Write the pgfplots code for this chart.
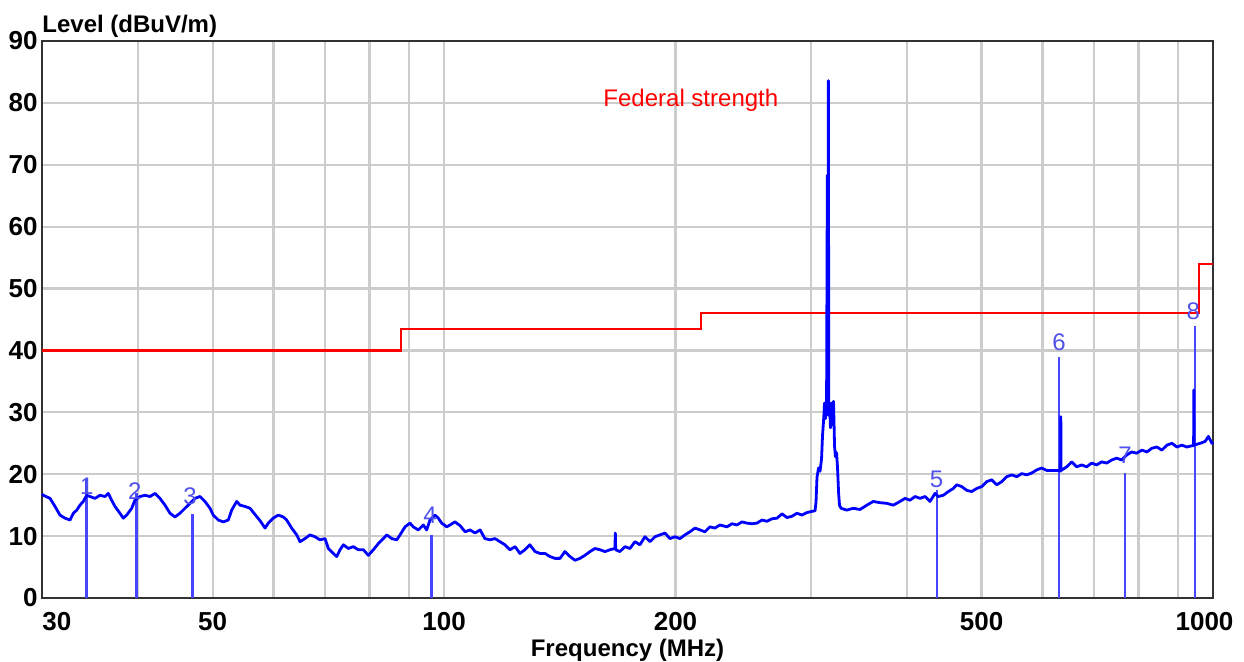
\documentclass[border=0pt]{standalone}
\usepackage{fontspec}
\setmainfont{Liberation Sans}
\usepackage{pgfplots}
\pgfplotsset{compat=1.18}

\definecolor{trace}{RGB}{0,0,255}
\definecolor{mk}{RGB}{70,70,255}
\definecolor{mklabel}{RGB}{80,80,235}
\definecolor{gridc}{RGB}{204,204,204}
\definecolor{framec}{RGB}{50,50,50}

\newcommand{\tickfont}{\fontsize{13}{15}\selectfont\bfseries}
\newcommand{\mkfont}{\fontsize{12}{14}\selectfont}

\begin{document}
\begin{tikzpicture}
\begin{semilogxaxis}[
    name=ax,
    scale only axis,
    width=585.5pt, height=278.5pt,
    xmin=30, xmax=1000, ymin=0, ymax=90,
    xtick={30,40,50,60,70,80,90,100,200,300,400,500,600,700,800,900,1000},
    xticklabels={,,50,,,,,100,200,,,500,,,,,},
    minor xtick={},
    ytick={0,10,...,90},
    grid=major,
    grid style={gridc, line width=1.1pt},
    major tick length=0pt,
    axis line style={framec, line width=1.3pt},
    tick label style={font=\tickfont, text=black},
    /pgf/number format/assume math mode=true,
    xticklabel style={inner sep=0pt, yshift=-7pt},
    yticklabel style={inner sep=0pt, xshift=-2pt},
    clip=false,
]

% marker sticks
\addplot[ycomb, mk, line width=1.3pt, mark=none] coordinates {
  (34.3,19.3) (39.83,16.9) (47.11,13.6) (96.36,10.2)
  (437.6,17.4) (630.6,38.9) (768.3,20.2) (947.9,44.0)
};

% limit line
\addplot[red, line width=1.1pt, const plot, mark=none] coordinates {
  (30,40) (88,43.5) (216,46) (960,54) (1000,54)
};

% measured trace
\addplot[trace, line width=1.4pt, line join=round, mark=none] coordinates {
  (30.0,16.8) (30.12,16.6) (30.73,16.1) (31.19,14.8) (31.66,13.4) (32.14,12.9)
  (32.63,12.6) (32.95,13.7) (33.29,14.2) (33.61,15.0) (33.95,15.6) (34.30,16.6)
  (34.64,16.4) (35.16,16.1) (35.69,16.6) (36.23,16.4) (36.59,16.9) (36.96,15.8)
  (37.33,14.8) (37.89,13.7) (38.27,12.9) (38.66,13.4) (39.25,14.5) (39.63,15.8)
  (40.23,16.4) (40.84,16.6) (41.45,16.4) (42.08,16.9) (42.71,16.1) (43.36,15.0)
  (44.01,13.7) (44.67,13.1) (45.35,13.7) (46.03,14.5) (46.73,15.3) (47.43,16.1)
  (48.15,16.4) (48.87,15.6) (49.61,14.5) (50.10,13.4) (50.86,12.6) (51.63,12.3)
  (52.41,12.6) (52.94,14.2) (53.74,15.6) (54.28,15.0) (55.09,14.8) (55.93,14.5)
  (56.77,13.5) (57.63,12.5) (58.50,11.3) (59.08,12.1) (59.96,12.9) (60.87,13.4)
  (61.79,13.1) (62.42,12.6) (63.36,11.3) (64.32,10.2) (64.96,9.1) (65.94,9.6)
  (66.93,10.2) (67.94,9.9) (68.96,9.4) (70.02,9.6) (70.72,8.0) (71.78,7.2)
  (72.52,6.7) (73.24,7.8) (73.97,8.6) (75.08,8.0) (76.21,8.3) (77.36,7.8)
  (78.53,7.8) (79.72,6.9) (80.92,7.8) (82.14,8.8) (83.38,9.6) (84.23,10.2)
  (85.50,9.6) (86.79,9.4) (87.65,10.2) (88.97,11.5) (90.30,12.1) (91.19,11.5)
  (92.57,11.0) (93.97,11.8) (94.93,11.0) (95.87,12.6) (97.32,13.4) (98.28,12.9)
  (99.29,12.1) (100.78,11.5) (101.8,11.8) (103.3,12.3) (104.9,11.7) (106.5,10.7)
  (108.1,11.0) (109.7,10.5) (111.4,11.0) (113.0,9.6) (114.7,9.4) (116.5,9.6)
  (118.2,9.1) (120.0,8.6) (121.8,7.8) (123.7,8.3) (125.5,7.2) (127.4,7.8)
  (129.3,8.6) (131.3,7.5) (133.3,7.2) (135.3,7.2) (137.3,6.7) (139.4,6.4)
  (141.5,6.4) (143.6,7.5) (145.8,6.7) (148.0,6.1) (150.2,6.4) (152.5,6.9)
  (154.8,7.5) (157.1,8.0) (159.5,7.8) (161.9,7.5) (164.4,7.8) (166.8,8.0)
  (167.0,10.5) (167.2,7.8) (169.3,7.5) (171.9,8.3) (174.5,8.0) (177.1,9.1)
  (179.8,8.6) (182.5,9.9) (185.3,9.1) (188.1,9.9) (190.9,10.2) (193.8,10.5)
  (196.7,9.6) (199.7,9.9) (202.7,9.6) (205.7,10.2) (208.8,10.7) (212.0,11.3)
  (215.2,11.0) (218.4,10.7) (221.7,11.5) (225.0,11.3) (228.4,11.8) (233.3,11.5)
  (236.8,12.0) (240.4,11.8) (244.0,12.3) (247.7,12.1) (251.4,12.0) (255.2,12.1)
  (259.1,12.6) (263.0,12.4) (266.9,12.8) (271.0,12.9) (275.1,13.6) (279.2,13.0)
  (283.4,13.2) (287.7,13.7) (292.0,13.4) (296.4,13.8) (301.0,14.0) (303.7,14.1)
  (304.6,15.5) (305.5,19.5) (306.9,21.0) (308.3,20.5) (309.7,22.5) (310.6,26.3)
  (311.5,28.5) (312.5,31.5) (313.4,29.0) (314.4,31.8) (315.1,68.3) (315.6,30.0)
  (316.1,83.6) (316.5,29.5) (317.2,31.5) (318.1,27.5) (319.1,31.5) (320.1,28.0)
  (321.0,31.8) (322.0,24.5) (322.9,22.8) (323.9,23.5) (324.9,21.0) (325.9,17.0)
  (326.8,15.0) (328.3,14.5) (334.0,14.2) (340.6,14.5) (347.5,14.3) (354.6,15.0)
  (361.6,15.6) (369.0,15.4) (376.5,15.3) (384.0,15.0) (391.7,15.6) (397.7,16.1)
  (403.6,15.8) (409.7,16.4) (415.9,16.1) (422.2,16.4) (428.5,15.6) (435.0,16.9)
  (439.3,16.4) (445.9,16.6) (452.7,17.2) (459.5,17.7) (464.2,18.3) (471.2,18.0)
  (478.3,17.4) (485.5,17.2) (492.8,17.7) (500.3,18.0) (507.8,18.8) (515.5,19.1)
  (523.3,18.3) (531.2,18.8) (539.2,19.6) (547.3,19.9) (555.6,19.6) (564.0,20.1)
  (572.5,19.9) (581.1,20.2) (589.9,20.7) (598.8,21.0) (607.8,20.6) (619.9,20.6)
  (629.3,20.6) (633.6,20.5) (634.0,29.3) (634.4,20.6) (645.3,21.2) (655.0,22.0)
  (664.9,21.2) (674.9,21.5) (685.1,21.2) (695.5,21.8) (705.9,21.5) (716.5,22.0)
  (727.4,21.8) (738.3,22.3) (749.5,22.6) (760.8,22.3) (772.3,23.1) (783.9,23.6)
  (795.7,23.4) (808.2,23.9) (820.4,23.6) (832.8,24.2) (845.3,24.4) (858.1,23.9)
  (871.0,24.7) (884.2,25.0) (897.5,24.4) (910.9,24.7) (924.6,24.4) (938.5,24.6)
  (943.6,24.6) (944.0,33.6) (944.4,24.7) (962.2,25.0) (976.7,25.3) (986.4,26.1)
  (996.5,25.0) (1000,25.2)
};

% edge tick labels
\node[anchor=north west, inner sep=0pt, font=\tickfont] at ([yshift=-7pt]axis cs:30,0) {30};
\node[anchor=north, inner sep=0pt, font=\tickfont] at ([xshift=-4.25pt, yshift=-7pt]axis cs:1000,0) {1000};

% limit label
\node[anchor=base west, inner sep=0pt, text=red, font=\fontsize{12}{14}\selectfont] at (axis cs:161,79.4) {Federal strength};

% marker numbers
\node[mklabel, inner sep=0pt, font=\mkfont] at (axis cs:34.3,18.1) {1};
\node[mklabel, inner sep=0pt, font=\mkfont] at (axis cs:39.63,17.2) {2};
\node[mklabel, inner sep=0pt, font=\mkfont] at (axis cs:46.73,16.5) {3};
\node[mklabel, inner sep=0pt, font=\mkfont] at (axis cs:95.87,13.4) {4};
\node[mklabel, inner sep=0pt, font=\mkfont] at (axis cs:437.0,19.1) {5};
\node[mklabel, inner sep=0pt, font=\mkfont] at (axis cs:630.6,41.4) {6};
\node[mklabel, inner sep=0pt, font=\mkfont] at (axis cs:768.3,23.1) {7};
\node[mklabel, inner sep=0pt, font=\mkfont] at (axis cs:943.0,46.4) {8};
\end{semilogxaxis}

\node[anchor=base west, inner sep=0pt, font=\fontsize{12}{14}\selectfont\bfseries] at ([yshift=4.5pt]ax.north west) {Level (dBuV/m)};
\node[anchor=base, inner sep=0pt, font=\fontsize{12}{14}\selectfont\bfseries] at ([yshift=-29pt]ax.south) {Frequency (MHz)};

\pgfresetboundingbox
\path[use as bounding box] ([shift={(-21pt,-31.5pt)}]ax.south west) rectangle ([shift={(601pt,299pt)}]ax.south west);
\end{tikzpicture}
\end{document}
